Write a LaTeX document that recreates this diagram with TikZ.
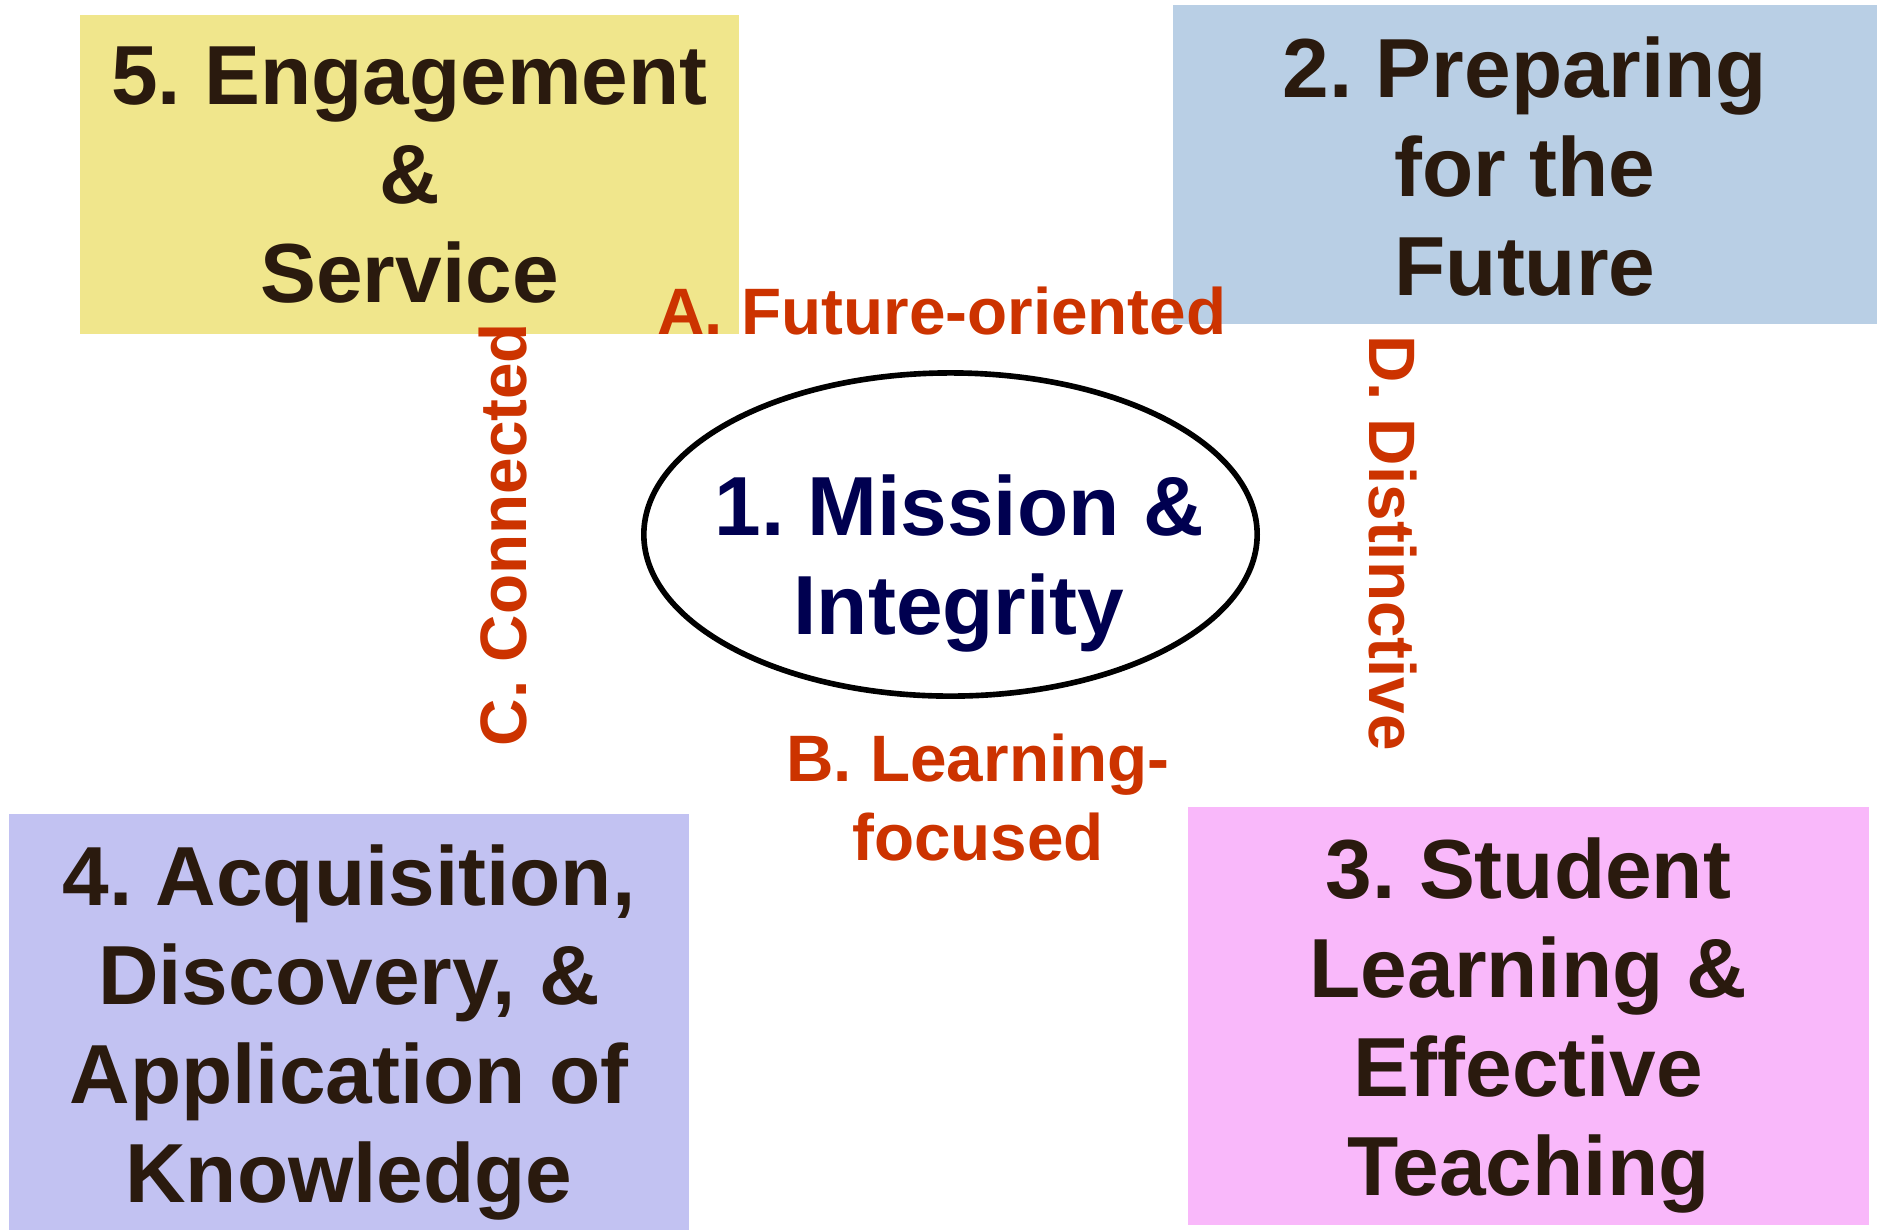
\documentclass[tikz,border=0pt]{standalone}
\usepackage{fontspec}
\setmainfont{Liberation Sans}
\usepackage{tikz}
\usetikzlibrary{positioning, shapes.geometric}

\definecolor{khakibox}{RGB}{240,230,140}
\definecolor{bluebox}{RGB}{185,207,229}
\definecolor{violetbox}{RGB}{194,194,242}
\definecolor{pinkbox}{RGB}{249,184,250}
\definecolor{boxink}{RGB}{42,26,14}
\definecolor{labelred}{RGB}{204,51,0}
\definecolor{missionblue}{RGB}{0,0,80}

\tikzstyle{area} = [rectangle, inner sep=0pt, minimum height=3.19cm]
\tikzstyle{areatext} = [align=center, inner sep=0pt, text=boxink, font=\bfseries\fontsize{23.84}{28.17}\selectfont]
\tikzstyle{quality} = [inner sep=0pt, text=labelred, font=\bfseries\fontsize{18.67}{22.48}\selectfont]

\begin{document}
\frenchspacing
\begin{tikzpicture}[x=0.01cm, y=-0.01cm]
  \useasboundingbox (0,0) rectangle (1881,1229);

  % Criteria boxes
  \node[area, fill=khakibox, minimum width=6.59cm] (eng) at (409.5,174.5) {};
  \node[area, fill=bluebox, minimum width=7.04cm] (prep) at (1525,164.5) {};
  \node[area, fill=violetbox, minimum width=6.8cm, minimum height=4.3cm] (acq) at (349,1029) {};
  \node[area, fill=pinkbox, minimum width=6.81cm, minimum height=4.18cm] (stu) at (1528.5,1016) {};

  \node[areatext, below=0.32cm of eng.north] (engtxt) {5. Engagement\\\&\\Service};
  \node[areatext, below=0.32cm of prep.north] (preptxt) {2. Preparing\\for the\\Future};
  \node[areatext, below=0.31cm of acq.north] (acqtxt) {4. Acquisition,\\Discovery, \&\\Application of\\Knowledge};
  \node[areatext, below=0.31cm of stu.north] (stutxt) {3. Student\\Learning \&\\Effective\\Teaching};

  % Center
  \node[ellipse, draw, line width=1.6pt, inner sep=0pt, minimum width=6.13cm, minimum height=3.23cm] (mission) at (950.5,534.5) {};
  \node[areatext, text=missionblue, below=1.043cm of mission.north, xshift=0.085cm] (missiontxt) {1. Mission \&\\Integrity};

  % Qualities
  \node[quality, anchor=base] (future) at (942,334) {A. Future-oriented};
  \node[quality, align=center, anchor=north] (learn) at (978,733.5) {B. Learning-\\focused};
  \node[quality, rotate=90, anchor=base] (conn) at (526,534.5) {C. Connected};
  \node[quality, rotate=-90, anchor=base] (dist) at (1369,543) {D. Distinctive};
\end{tikzpicture}
\end{document}
